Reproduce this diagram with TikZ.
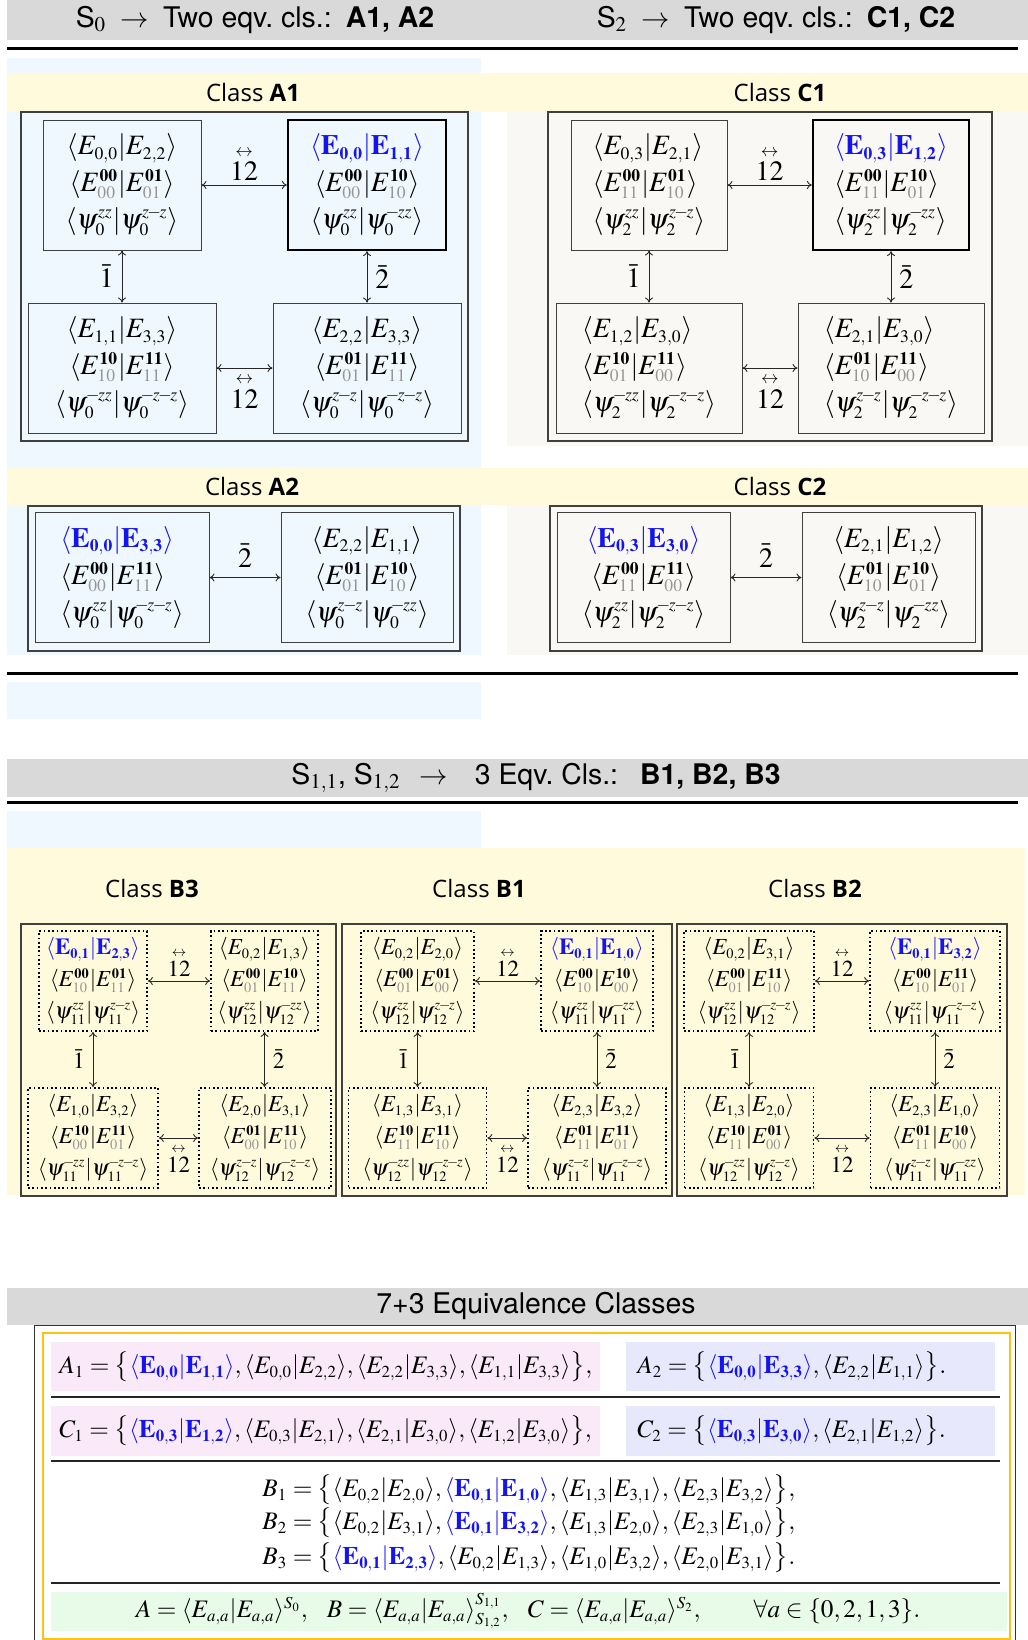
\documentclass[tikz,border=0pt]{standalone}
\usepackage{amsmath}
\usepackage{mathptmx}
\usepackage[no-math]{fontspec}
\setsansfont{TeX Gyre Heros}
\newfontfamily\clsfont{Open Sans}
\usetikzlibrary{arrows.meta}
\DeclareMathSizes{14}{14}{8.8}{6.5}
\DeclareMathSizes{11.5}{11.5}{7.2}{5.5}
\DeclareMathSizes{12.6}{12.6}{8.4}{6.2}
\definecolor{bandgray}{RGB}{217,217,217}
\definecolor{bgblue}{RGB}{240,248,255}
\definecolor{bgyellow}{RGB}{255,250,220}
\definecolor{bgbeige}{RGB}{250,248,244}
\definecolor{bgpink}{RGB}{250,233,248}
\definecolor{bglav}{RGB}{232,232,252}
\definecolor{bggreen}{RGB}{232,250,232}
\definecolor{gold}{RGB}{255,193,20}
\definecolor{subgray}{RGB}{150,150,150}
\definecolor{hlblue}{RGB}{20,20,240}
\newcommand{\mn}{\mkern-1.5mu-\mkern-1.5mu}
\newcommand{\PL}[2]{\langle E_{#1}|E_{#2}\rangle}
\newcommand{\EX}[4]{\langle E^{\mathbf{#1}}_{\textcolor{subgray}{#2}}|E^{\mathbf{#3}}_{\textcolor{subgray}{#4}}\rangle}
\newcommand{\PX}[3]{\langle\psi^{#2}_{#1}|\psi^{#3}_{#1}\rangle}
\newcommand{\HL}[2]{\textcolor{hlblue}{\langle\mathbf{E_{#1}}|\mathbf{E_{#2}}\rangle}}
\newcommand{\OVA}{\overset{\leftrightarrow}{12}}
\tikzset{
  bigbox/.style={draw=black!75, line width=0.5pt, inner sep=0pt, align=center, minimum height=65pt, font=\fontsize{14}{18.5}\selectfont, execute at begin node={\rule{0pt}{17pt}}},
  bigboxL/.style={bigbox, align=left},
  hbox/.style={draw=black, line width=1.1pt},
  dbox/.style={draw=black, line width=0.85pt, dash pattern=on 0.85pt off 1.3pt, inner sep=0pt, align=center, minimum height=50pt, font=\fontsize{11.5}{16}\selectfont, execute at begin node={\rule{0pt}{12pt}}},
  frame/.style={draw=black!75, line width=0.8pt},
  arr/.style={{To[length=2.5pt,width=4pt]}-{To[length=2.5pt,width=4pt]}, line width=0.45pt, draw=black!85},
  lab/.style={font=\fontsize{14}{16}\selectfont, inner sep=0pt},
  labs/.style={font=\fontsize{11.5}{13}\selectfont, inner sep=0pt},
  hdr/.style={font=\sffamily\fontsize{14.2}{17}\selectfont, inner sep=0pt},
  cls/.style={font=\clsfont\fontsize{12}{14}\selectfont, inner sep=0pt},
  row/.style={font=\fontsize{12.6}{15}\selectfont, inner sep=0pt, anchor=west},
  rule/.style={line width=1.5pt, draw=black},
  thinrule/.style={line width=0.8pt, draw=black!85},
}
\begin{document}
\begin{tikzpicture}[x=0.5pt,y=-0.5pt]
\useasboundingbox (0,0) rectangle (1028,1640);
% ---------- backgrounds ----------
\fill[bandgray] (7,0) rectangle (1028,40);
\draw[rule] (7,48) -- (1018,48);
\fill[bgblue] (7,58) rectangle (481,655);
\fill[bgbeige] (507,112) rectangle (1028,446);
\fill[bgbeige] (507,505) rectangle (1028,655);
\fill[bgyellow] (7,73) rectangle (1028,112);
\fill[bgyellow] (7,468) rectangle (1028,505);
\draw[rule] (7,673) -- (1018,673);
\fill[bgblue] (7,682) rectangle (481,719);
\fill[bandgray] (7,759) rectangle (1028,797);
\draw[rule] (7,802) -- (1018,802);
\fill[bgblue] (7,811) rectangle (481,848);
\fill[bgyellow] (7,848) rectangle (1025,1195);
\fill[bandgray] (7,1288) rectangle (1028,1325);

% ---------- headers ----------
\node[hdr] (h1) at (255,20) {S$_0$\enspace$\rightarrow$\enspace Two eqv.\ cls.:\enspace\textbf{A1, A2}};
\node[hdr] (h2) at (776,20) {S$_2$\enspace$\rightarrow$\enspace Two eqv.\ cls.:\enspace\textbf{C1, C2}};
\node[hdr] (h3) at (536,778) {S$_{1,1}$, S$_{1,2}$\enspace\,$\rightarrow$\enspace\, 3 Eqv.\ Cls.:\enspace\ \textbf{B1, B2, B3}};
\node[hdr] (h4) at (536,1306) {7+3 Equivalence Classes};

\node[cls] (ca1) at (253,92) {Class \textbf{A1}};
\node[cls] (cc1) at (780,92) {Class \textbf{C1}};
\node[cls] (ca2) at (252,486) {Class \textbf{A2}};
\node[cls] (cc2) at (780,486) {Class \textbf{C2}};
\node[cls] (cb3) at (152,888) {Class \textbf{B3}};
\node[cls] (cb1) at (479,888) {Class \textbf{B1}};
\node[cls] (cb2) at (815,888) {Class \textbf{B2}};

% ---------- class A1 ----------
\draw[frame] (21,112) rectangle (468,441);
\node[bigbox, minimum width=79pt] (a1tl) at (122,185) {$\PL{0,0}{2,2}$\\$\EX{00}{00}{01}{01}$\\$\PX{0}{zz}{z\mn z}$};
\node[bigbox, hbox, minimum width=79pt] (a1tr) at (367,185) {$\HL{0,0}{1,1}$\\$\EX{00}{00}{10}{10}$\\$\PX{0}{zz}{\mn zz}$};
\node[bigbox, minimum width=94pt] (a1bl) at (122,368) {$\PL{1,1}{3,3}$\\$\EX{10}{10}{11}{11}$\\$\PX{0}{\mn zz}{\mn z\mn z}$};
\node[bigbox, minimum width=94pt] (a1br) at (367,368) {$\PL{2,2}{3,3}$\\$\EX{01}{01}{11}{11}$\\$\PX{0}{z\mn z}{\mn z\mn z}$};
\draw[arr] (a1tl.east) -- node[lab, above=2pt] {$\OVA$} (a1tl.east -| a1tr.west);
\draw[arr] (a1tl.south) -- node[lab, left=4pt] {$\bar{1}$} (a1tl.south |- a1bl.north);
\draw[arr] (a1tr.south) -- node[lab, right=4pt] {$\bar{2}$} (a1tr.south |- a1br.north);
\draw[arr] (a1bl.east) -- node[lab, below=3pt] {$\OVA$} (a1bl.east -| a1br.west);

% ---------- class C1 ----------
\draw[frame] (548,112) rectangle (992,441);
\node[bigboxL, minimum width=78pt] (c1tl) at (649,185) {$\PL{0,3}{2,1}$\\$\EX{00}{11}{01}{10}$\\$\PX{2}{zz}{z\mn z}$};
\node[bigboxL, hbox, minimum width=78pt] (c1tr) at (891,185) {$\HL{0,3}{1,2}$\\$\EX{00}{11}{10}{01}$\\$\PX{2}{zz}{\mn zz}$};
\node[bigboxL, minimum width=93pt] (c1bl) at (649,368) {$\PL{1,2}{3,0}$\\$\EX{10}{01}{11}{00}$\\$\PX{2}{\mn zz}{\mn z\mn z}$};
\node[bigboxL, minimum width=93pt] (c1br) at (891,368) {$\PL{2,1}{3,0}$\\$\EX{01}{10}{11}{00}$\\$\PX{2}{z\mn z}{\mn z\mn z}$};
\draw[arr] (c1tl.east) -- node[lab, above=2pt] {$\OVA$} (c1tl.east -| c1tr.west);
\draw[arr] (c1tl.south) -- node[lab, left=4pt] {$\bar{1}$} (c1tl.south |- c1bl.north);
\draw[arr] (c1tr.south) -- node[lab, right=4pt] {$\bar{2}$} (c1tr.south |- c1br.north);
\draw[arr] (c1bl.east) -- node[lab, below=3pt] {$\OVA$} (c1bl.east -| c1br.west);

% ---------- class A2 ----------
\draw[frame] (28,506) rectangle (460,651);
\node[bigboxL, minimum width=87pt] (a2l) at (122,577.5) {$\HL{0,0}{3,3}$\\$\EX{00}{00}{11}{11}$\\$\PX{0}{zz}{\mn z\mn z}$};
\node[bigbox, minimum width=86pt] (a2r) at (367,577.5) {$\PL{2,2}{1,1}$\\$\EX{01}{01}{10}{10}$\\$\PX{0}{z\mn z}{\mn zz}$};
\draw[arr] (a2l.east) -- node[lab, above=5pt] {$\bar{2}$} (a2l.east -| a2r.west);

% ---------- class C2 ----------
\draw[frame] (550,506) rectangle (982,651);
\node[bigbox, minimum width=86.5pt] (c2l) at (643.5,577.5) {$\HL{0,3}{3,0}$\\$\EX{00}{11}{11}{00}$\\$\PX{2}{zz}{\mn z\mn z}$};
\node[bigbox, minimum width=86.5pt] (c2r) at (888.5,577.5) {$\PL{2,1}{1,2}$\\$\EX{01}{10}{10}{01}$\\$\PX{2}{z\mn z}{\mn zz}$};
\draw[arr] (c2l.east) -- node[lab, above=5pt] {$\bar{2}$} (c2l.east -| c2r.west);

% ---------- class B3 ----------
\draw[frame] (21,924) rectangle (336,1196);
\node[dbox, minimum width=54pt] (b3tl) at (93,981) {$\HL{0,1}{2,3}$\\$\EX{00}{10}{01}{11}$\\$\PX{11}{zz}{z\mn z}$};
\node[dbox, minimum width=53.5pt] (b3tr) at (264.5,981) {$\PL{0,2}{1,3}$\\$\EX{00}{01}{10}{11}$\\$\PX{12}{zz}{\mn zz}$};
\node[dbox, minimum width=65pt] (b3bl) at (93,1138) {$\PL{1,0}{3,2}$\\$\EX{10}{00}{11}{01}$\\$\PX{11}{\mn zz}{\mn z\mn z}$};
\node[dbox, minimum width=66pt] (b3br) at (265,1138) {$\PL{2,0}{3,1}$\\$\EX{01}{00}{11}{10}$\\$\PX{12}{z\mn z}{\mn z\mn z}$};
\draw[arr] (b3tl.east) -- node[labs, above=2pt] {$\OVA$} (b3tl.east -| b3tr.west);
\draw[arr] (b3tl.south) -- node[labs, left=4pt] {$\bar{1}$} (b3tl.south |- b3bl.north);
\draw[arr] (b3tr.south) -- node[labs, right=4pt] {$\bar{2}$} (b3tr.south |- b3br.north);
\draw[arr] (b3bl.east) -- node[labs, below=3pt] {$\OVA$} (b3bl.east -| b3br.west);

% ---------- class B1 ----------
\draw[frame] (342,924) rectangle (672,1196);
\node[dbox, minimum width=56.5pt] (b1tl) at (417.5,981) {$\PL{0,2}{2,0}$\\$\EX{00}{01}{01}{00}$\\$\PX{12}{zz}{z\mn z}$};
\node[dbox, minimum width=56pt] (b1tr) at (597,981) {$\HL{0,1}{1,0}$\\$\EX{00}{10}{10}{00}$\\$\PX{11}{zz}{\mn zz}$};
\node[dbox, minimum width=69pt] (b1bl) at (417.5,1138) {$\PL{1,3}{3,1}$\\$\EX{10}{11}{11}{10}$\\$\PX{12}{\mn zz}{\mn z\mn z}$};
\node[dbox, minimum width=69pt] (b1br) at (597,1138) {$\PL{2,3}{3,2}$\\$\EX{01}{11}{11}{01}$\\$\PX{11}{z\mn z}{\mn z\mn z}$};
\draw[arr] (b1tl.east) -- node[labs, above=2pt] {$\OVA$} (b1tl.east -| b1tr.west);
\draw[arr] (b1tl.south) -- node[labs, left=4pt] {$\bar{1}$} (b1tl.south |- b1bl.north);
\draw[arr] (b1tr.south) -- node[labs, right=4pt] {$\bar{2}$} (b1tr.south |- b1br.north);
\draw[arr] (b1bl.east) -- node[labs, below=3pt] {$\OVA$} (b1bl.east -| b1br.west);

% ---------- class B2 ----------
\draw[frame] (677,924) rectangle (1007,1196);
\node[dbox, minimum width=65pt] (b2tl) at (749,981) {$\PL{0,2}{3,1}$\\$\EX{00}{01}{11}{10}$\\$\PX{12}{zz}{\mn z\mn z}$};
\node[dbox, minimum width=65pt] (b2tr) at (935,981) {$\HL{0,1}{3,2}$\\$\EX{00}{10}{11}{01}$\\$\PX{11}{zz}{\mn z\mn z}$};
\node[dbox, minimum width=64.5pt] (b2bl) at (749,1138) {$\PL{1,3}{2,0}$\\$\EX{10}{11}{01}{00}$\\$\PX{12}{\mn zz}{z\mn z}$};
\node[dbox, minimum width=64.5pt] (b2br) at (935,1138) {$\PL{2,3}{1,0}$\\$\EX{01}{11}{10}{00}$\\$\PX{11}{z\mn z}{\mn zz}$};
\draw[arr] (b2tl.east) -- node[labs, above=2pt] {$\OVA$} (b2tl.east -| b2tr.west);
\draw[arr] (b2tl.south) -- node[labs, left=4pt] {$\bar{1}$} (b2tl.south |- b2bl.north);
\draw[arr] (b2tr.south) -- node[labs, right=4pt] {$\bar{2}$} (b2tr.south |- b2br.north);
\draw[arr] (b2bl.east) -- node[labs, below=3pt] {$\OVA$} (b2bl.east -| b2br.west);

% ---------- summary table ----------
\draw[draw=black!80, line width=0.5pt] (34,1645) -- (34,1325) -- (1015,1325) -- (1015,1645);
\draw[gold, line width=1.1pt] (43,1333) rectangle (1010,1639);
\fill[bgpink] (51,1342) rectangle (600,1391);
\fill[bglav] (626,1342) rectangle (995,1391);
\draw[thinrule] (51,1397) -- (1000,1397);
\fill[bgpink] (51,1406) rectangle (600,1456);
\fill[bglav] (626,1406) rectangle (995,1456);
\draw[thinrule] (51,1461) -- (1000,1461);
\draw[thinrule] (51,1583) -- (1000,1583);
\fill[bggreen] (51,1592) rectangle (1007,1631);

\node[row] (rA1) at (59,1367) {$A_1=\bigl\{\HL{0,0}{1,1},\PL{0,0}{2,2},\PL{2,2}{3,3},\PL{1,1}{3,3}\bigr\},$};
\node[row] (rA2) at (637,1367) {$A_2=\bigl\{\HL{0,0}{3,3},\PL{2,2}{1,1}\bigr\}.$};
\node[row] (rC1) at (59,1431) {$C_1=\bigl\{\HL{0,3}{1,2},\PL{0,3}{2,1},\PL{2,1}{3,0},\PL{1,2}{3,0}\bigr\},$};
\node[row] (rC2) at (637,1431) {$C_2=\bigl\{\HL{0,3}{3,0},\PL{2,1}{1,2}\bigr\}.$};
\node[row] (rB1) at (262,1490) {$B_1=\bigl\{\PL{0,2}{2,0},\HL{0,1}{1,0},\PL{1,3}{3,1},\PL{2,3}{3,2}\bigr\},$};
\node[row] (rB2) at (262,1523) {$B_2=\bigl\{\PL{0,2}{3,1},\HL{0,1}{3,2},\PL{1,3}{2,0},\PL{2,3}{1,0}\bigr\},$};
\node[row] (rB3) at (262,1558) {$B_3=\bigl\{\HL{0,1}{2,3},\PL{0,2}{1,3},\PL{1,0}{3,2},\PL{2,0}{3,1}\bigr\}.$};
\node[row, anchor=center] (rAll) at (528,1611) {$A=\PL{a,a}{a,a}^{S_0},\ \ B=\PL{a,a}{a,a}^{S_{1,1}}_{S_{1,2}},\ \ C=\PL{a,a}{a,a}^{S_2},\qquad\forall a\in\{0,2,1,3\}.$};
\end{tikzpicture}
\end{document}
